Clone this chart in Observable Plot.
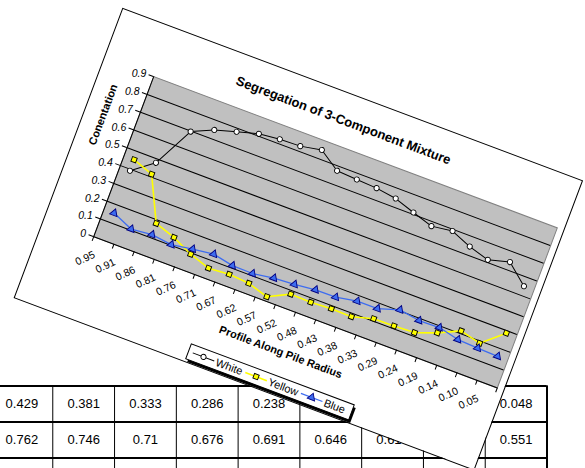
<!DOCTYPE html>
<html><head><meta charset="utf-8">
<script src="https://cdn.jsdelivr.net/npm/d3@7"></script>
<script src="https://cdn.jsdelivr.net/npm/@observablehq/plot@0.6"></script>
<style>
body{margin:0;background:#fff;width:585px;height:468px;overflow:hidden;position:relative;font-family:"Liberation Sans",Arial,sans-serif}
#table{position:absolute;left:0;top:0}
#chart{position:absolute;left:123px;top:9px;width:490px;height:308px;transform-origin:0 0;transform:rotate(20.55deg);background:#fff;outline:1.2px solid #000}
#chart svg{position:absolute;left:0;top:0;overflow:visible}
</style></head><body>
<div id="table"></div>
<div id="chart"></div>
<script>
// ---- data ----
const chartTitle = "Segregation of 3-Component Mixture";
const xTitle = "Profile Along Pile Radius";
const yTitle = "Conentation";
const xLabels = ["0.95","0.91","0.86","0.81","0.76","0.71","0.67","0.62","0.57","0.52","0.48","0.43","0.38","0.33","0.29","0.24","0.19","0.14","0.10","0.05"];
const yTicks = [0,0.1,0.2,0.3,0.4,0.5,0.6,0.7,0.8,0.9];
const seriesNames = ["White","Yellow","Blue"];
const white  = [0.392,0.479,0.697,0.749,0.781,0.812,0.824,0.828,0.849,0.775,0.768,0.762,0.746,0.71,0.676,0.691,0.646,0.614,0.644,0.551];
const yellow = [0.454,0.415,0.181,0.145,0.093,0.057,0.065,0.057,0.024,0.081,0.078,0.084,0.082,0.113,0.115,0.120,0.161,0.215,0.188,0.287];
const blue   = [0.154,0.107,0.118,0.104,0.122,0.136,0.114,0.112,0.129,0.136,0.148,0.149,0.169,0.170,0.205,0.188,0.191,0.166,0.160,0.157];
const tableRadius = ["0.429","0.381","0.333","0.286","0.238","0.190","0.143","0.095","0.048"];
const tableWhite  = ["0.762","0.746","0.71","0.676","0.691","0.646","0.614","0.644","0.551"];

const FONT = "Liberation Sans, Arial, sans-serif";

// ---- table behind ----
const nCols = tableRadius.length;
const tablePlot = Plot.plot({
  width: 585, height: 468, margin: 0,
  x: {domain: [0, nCols], range: [-9.5, 546.5]},
  y: {domain: [0, 3], range: [385.5, 493.5]},
  style: {fontFamily: FONT, fontSize: "13px", background: "transparent"},
  marks: [
    Plot.ruleX(d3.range(nCols + 1), {y1: 0, y2: 3, stroke: "#000", strokeWidth: 1}),
    Plot.ruleX([nCols], {y1: 0, y2: 3, stroke: "#000", strokeWidth: 2}),
    Plot.ruleY([0, 1, 2, 3], {x1: 0, x2: nCols, stroke: "#000", strokeWidth: 2}),
    Plot.text(tableRadius, {x: (d, i) => i + 0.5, y: () => 0.5, text: d => d, fill: "#000"}),
    Plot.text(tableWhite, {x: (d, i) => i + 0.5, y: () => 1.5, text: d => d, fill: "#000"})
  ]
});
document.getElementById("table").append(tablePlot);

// ---- rotated chart ----
const series = [
  {name: seriesNames[0], values: white,  line: "#000000", symbol: "circle",   fill: "#ffffff", stroke: "#000000", r: 2.6, lw: 1},
  {name: seriesNames[1], values: yellow, line: "#ffff00", symbol: "square",   fill: "#ffff00", stroke: "#000000", r: 2.8, lw: 1.6},
  {name: seriesNames[2], values: blue,   line: "#3d6cf0", symbol: "triangle", fill: "#3d6cf0", stroke: "#000080", r: 2.9, lw: 1.3}
];
const rowsOf = s => s.values.map((v, i) => ({i: i + 0.5, v}));

const seriesMarks = series.flatMap(s => [
  Plot.line(rowsOf(s), {x: "i", y: "v", stroke: s.line, strokeWidth: s.lw}),
  Plot.dot(rowsOf(s), {x: "i", y: "v", symbol: () => s.symbol, r: s.r, fill: s.fill, stroke: s.stroke, strokeWidth: 0.9})
]);

const chart = Plot.plot({
  width: 490, height: 308,
  marginLeft: 52, marginRight: 7, marginTop: 52, marginBottom: 85,
  style: {fontFamily: FONT, fontSize: "10.5px", background: "transparent", overflow: "visible"},
  x: {domain: [0, xLabels.length]},
  y: {domain: [0, 0.9]},
  symbol: {type: "identity"},
  marks: [
    Plot.frame({fill: "#c0c0c0", stroke: "#808080"}),
    Plot.gridY(yTicks.filter(d => d > 0 && d < 0.9), {stroke: "#000", strokeOpacity: 1, strokeWidth: 1}),
    Plot.ruleX([0], {stroke: "#000"}),
    Plot.ruleY([0], {stroke: "#000"}),
    Plot.axisY({ticks: yTicks, tickSize: 5, tickPadding: 3, tickFormat: d => String(+d.toFixed(1)), tickRotate: -20.55, fontStyle: "italic", label: null, fill: "#000"}),
    Plot.axisX({ticks: d3.range(xLabels.length + 1), tickSize: 5, tickFormat: () => "", label: null}),
    Plot.axisX({ticks: xLabels.map((d, i) => i + 0.5), tickSize: 0, tickPadding: 16, dx: -4, tickRotate: -45, tickFormat: d => xLabels[Math.floor(d)], label: null, fill: "#000"}),
    ...seriesMarks,
    Plot.text([chartTitle], {frameAnchor: "top", dx: -22.5, dy: -30.5, text: d => d, fontWeight: "bold", fontSize: 13, fill: "#000"}),
    Plot.text([xTitle], {frameAnchor: "bottom", dy: 46, text: d => d, fontWeight: "bold", fontSize: 11, fill: "#000"}),
    Plot.text([yTitle], {frameAnchor: "left", dx: -34, rotate: -90, text: d => d, fontWeight: "bold", fontSize: 11, fill: "#000"})
  ]
});
document.getElementById("chart").append(chart);

// ---- legend (inside the chart area, with Excel-like shadow) ----
const leg = d3.select("#chart").append("svg").attr("width", 490).attr("height", 308);
const LX = 181.5, LY = 289.5, LW = 174, LH = 16;
leg.append("rect").attr("x", LX + 2.5).attr("y", LY + 2.5).attr("width", LW).attr("height", LH).attr("fill", "#000");
leg.append("rect").attr("x", LX).attr("y", LY).attr("width", LW).attr("height", LH).attr("fill", "#fff").attr("stroke", "#000");
let cx = LX + 4.5;
const cy = LY + LH / 2;
const symMap = {circle: d3.symbolCircle, square: d3.symbolSquare, triangle: d3.symbolTriangle};
series.forEach(s => {
  leg.append("line").attr("x1", cx).attr("x2", cx + 23).attr("y1", cy).attr("y2", cy).attr("stroke", s.line).attr("stroke-width", s.lw);
  leg.append("path").attr("d", d3.symbol(symMap[s.symbol], s.r * s.r * Math.PI)()).attr("transform", `translate(${cx + 11.5},${cy})`)
    .attr("fill", s.fill).attr("stroke", s.stroke).attr("stroke-width", 0.9);
  const t = leg.append("text").attr("x", cx + 25).attr("y", cy + 4).attr("font-family", FONT).attr("font-size", 11).attr("fill", "#000").text(s.name);
  cx += 25 + t.node().getComputedTextLength() + 3;
});
</script></body></html>
